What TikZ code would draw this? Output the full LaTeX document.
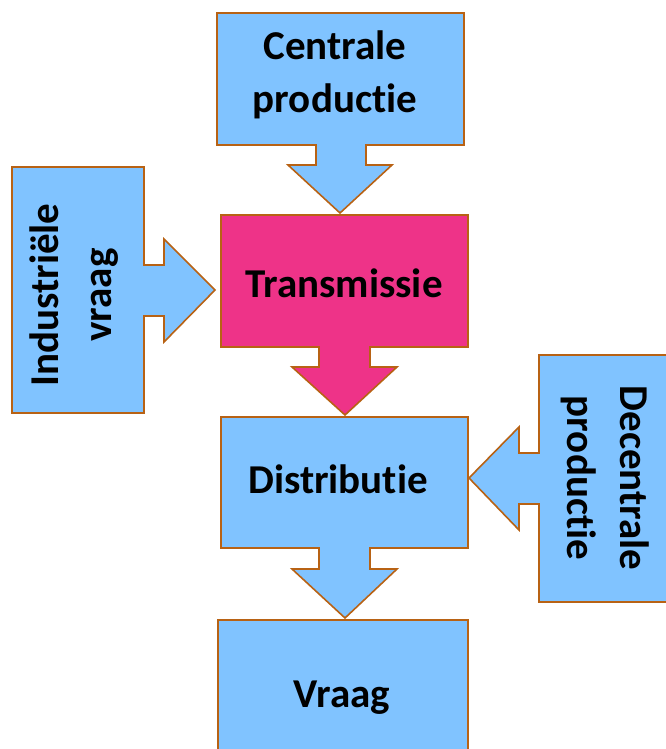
\documentclass[tikz,border=0pt]{standalone}
\usepackage{fontspec}
\setmainfont{Carlito}[Ligatures={NoCommon}]
\begin{document}
\begin{tikzpicture}[x=1pt,y=-1pt,
  callout/.style={draw=edgebrown,line width=1.6pt,line join=miter},
  bluefill/.style={callout,fill=boxblue},
  pinkfill/.style={callout,fill=boxpink},
  lbl/.style={font=\fontsize{41}{53}\selectfont\bfseries,align=center,text=black,inner sep=0pt}]
\definecolor{boxblue}{RGB}{128,195,255}
\definecolor{boxpink}{RGB}{238,51,136}
\definecolor{edgebrown}{RGB}{184,98,20}
\useasboundingbox (0,0) rectangle (665,749);

% Centrale productie: box with downward arrow
\path[bluefill] (217,13) -- (464,13) -- (464,145) -- (366,145) -- (366,165) -- (392,165)
  -- (340,213) -- (288,165) -- (316,165) -- (316,145) -- (217,145) -- cycle;
\node[lbl] (central) at (335,75) {Centrale\\productie};

% Industriele vraag: box with arrow to the right
\path[bluefill] (12,167) -- (144,167) -- (144,265) -- (164,265) -- (164,239) -- (215,290)
  -- (164,342) -- (164,316) -- (144,316) -- (144,413) -- (12,413) -- cycle;
\node[lbl,rotate=90] (industrie) at (74,295) {Industriële\\vraag};

% Transmissie
\path[pinkfill] (221,215) -- (468,215) -- (468,347) -- (370,347) -- (370,367) -- (397,367)
  -- (345,415) -- (292,367) -- (319,367) -- (319,347) -- (221,347) -- cycle;
\node[lbl] (trans) at (344,283) {Transmissie};

% Decentrale productie: box with arrow to the left
\path[bluefill] (675,355) -- (539,355) -- (539,453) -- (519,453) -- (519,427) -- (469,478)
  -- (519,530) -- (519,504) -- (539,504) -- (539,602) -- (675,602);
\node[lbl,rotate=-90] (decentral) at (605,478) {Decentrale\\productie};

% Distributie
\path[bluefill] (221,417) -- (468,417) -- (468,548) -- (370,548) -- (370,569) -- (397,569)
  -- (345,618) -- (292,569) -- (319,569) -- (319,548) -- (221,548) -- cycle;
\node[lbl] (distr) at (338,479) {Distributie};

% Vraag
\path[bluefill] (218,775) -- (218,620) -- (468,620) -- (468,775);
\node[lbl] (vraag) at (342,698) {Vraag};
\end{tikzpicture}
\end{document}
